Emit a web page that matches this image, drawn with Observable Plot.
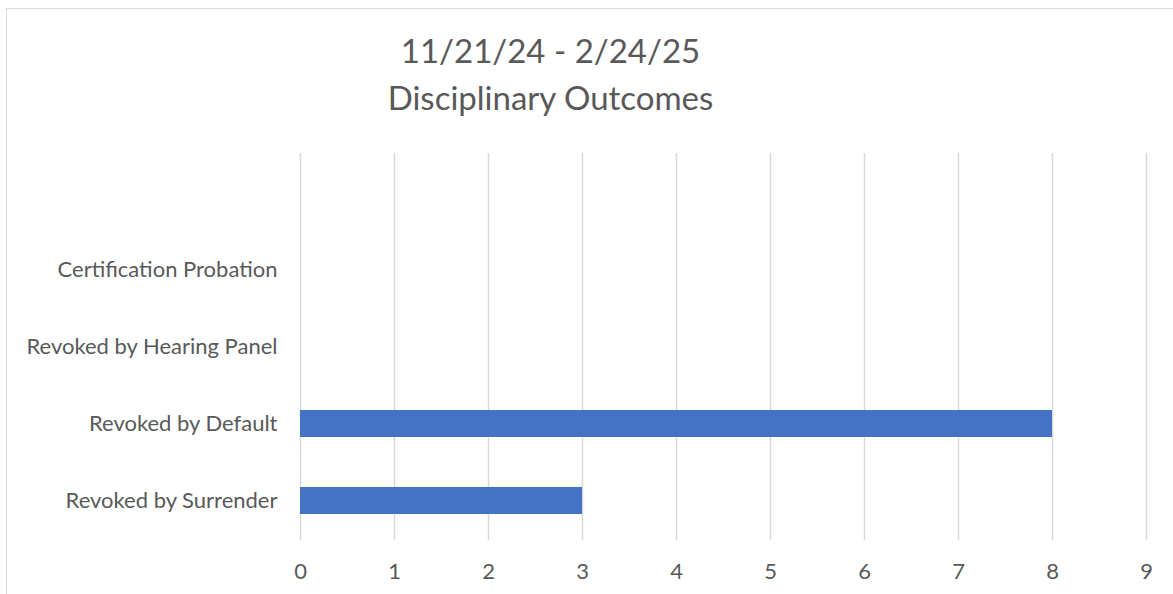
<!DOCTYPE html>
<html>
<head>
<meta charset="utf-8">
<script src="https://cdn.jsdelivr.net/npm/d3@7"></script>
<script src="https://cdn.jsdelivr.net/npm/@observablehq/plot@0.6"></script>
<style>
  html, body { margin: 0; padding: 0; background: #fff; overflow: hidden; }
  #wrap { position: relative; width: 1173px; height: 594px; overflow: hidden; font-family: Lato, "Noto Sans", sans-serif; }
  #frame { position: absolute; left: 6px; top: 8px; width: 1200px; height: 700px; border: 1.5px solid #D9D9D9; box-sizing: border-box; }
  #title { position: absolute; left: 0; top: 27px; width: 1101px; text-align: center; color: #595959; font-size: 33px; line-height: 47px; }
  #chart { position: absolute; left: 0; top: 0; }
</style>
</head>
<body>
<div id="wrap">
  <div id="frame"></div>
  <div id="title">11/21/24 - 2/24/25<br>Disciplinary Outcomes</div>
  <div id="chart"></div>
</div>
<script>
const categories = ["Certification Probation", "Revoked by Hearing Panel", "Revoked by Default", "Revoked by Surrender"];
const counts = [0, 0, 8, 3];
const xTicks = [0, 1, 2, 3, 4, 5, 6, 7, 8, 9];

const data = categories.map((c, i) => ({category: c, count: counts[i]}));

const plot = Plot.plot({
  width: 1173,
  height: 594,
  marginLeft: 300,
  marginRight: 27,
  marginTop: 153,
  marginBottom: 54,
  style: {fontFamily: "Lato, 'Noto Sans', sans-serif", fontSize: "22px", color: "#595959", background: "transparent", overflow: "visible"},
  x: {domain: [0, 9], ticks: xTicks},
  y: {domain: categories, range: [230.5, 540], paddingInner: 0.65, paddingOuter: 0.325},
  marks: [
    Plot.ruleX(xTicks, {stroke: "#D9D9D9", strokeWidth: 1.5}),
    Plot.barX(data, {x: "count", y: "category", fill: "#4472C4"}),
    Plot.axisX({ticks: xTicks, tickSize: 0, tickPadding: 23, label: null, fill: "#595959", fontSize: 22}),
    Plot.axisY({tickSize: 0, tickPadding: 23, label: null, fill: "#595959", fontSize: 22})
  ]
});
document.getElementById("chart").appendChild(plot);
</script>
</body>
</html>
